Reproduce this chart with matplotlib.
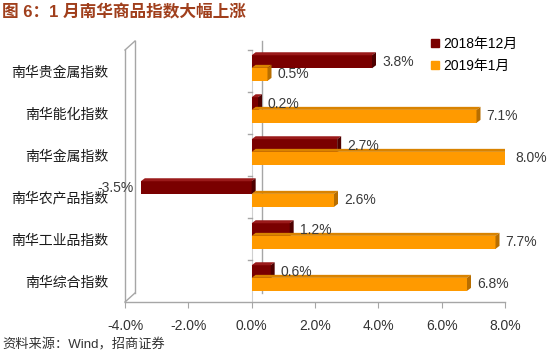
import numpy as np
import matplotlib
matplotlib.use('Agg')
import matplotlib.pyplot as plt
from matplotlib.patches import Polygon
from matplotlib.lines import Line2D

plt.rcParams['font.family'] = ['Liberation Sans', 'Noto Sans CJK SC', 'DejaVu Sans']

# data
categories = ['南华贵金属指数', '南华能化指数', '南华金属指数',
              '南华农产品指数', '南华工业品指数', '南华综合指数']
dec_2018 = [3.8, 0.2, 2.7, -3.5, 1.2, 0.6]
jan_2019 = [0.5, 7.1, 8.0, 2.6, 7.7, 6.8]
series_names = ['2018年12月', '2019年1月']
xticks = [-4, -2, 0, 2, 4, 6, 8]

c_dark = '#7A0000'
c_dark_side = '#4E0000'
c_dark_top = '#9A1A1A'
c_org = '#FF9A00'
c_org_side = '#B86E00'
c_org_top = '#D98300'
grey = '#A6A6A6'

fig = plt.figure(figsize=(5.5, 3.56), dpi=100)
ax = fig.add_axes([125/550, 1-302/356, 380/550, 252/356])

ypos = np.arange(len(categories))
bh = 0.31
b1 = ax.barh(ypos - 0.22, dec_2018, height=bh, color=c_dark, zorder=3)
b2 = ax.barh(ypos + 0.08, jan_2019, height=bh, color=c_org, zorder=4)

ax.set_xlim(-4, 8)
ax.set_ylim(5.5, -0.5)

# px -> data units
px_x = 12 / 380.0
px_y = 6 / 252.0

# fake 3D faces on bars
for bars, side, top, z in [(b1, c_dark_side, c_dark_top, 3), (b2, c_org_side, c_org_top, 4)]:
    for r in bars:
        x0, y0, w, h = r.get_x(), r.get_y(), r.get_width(), r.get_height()
        xl, xr = min(x0, x0 + w), max(x0, x0 + w)
        dx, dy = 4 * px_x, 3 * px_y
        ax.add_patch(Polygon([(xl, y0), (xl + dx, y0 - dy), (xr + dx, y0 - dy), (xr, y0)],
                             closed=True, color=top, lw=0, zorder=z))
        ax.add_patch(Polygon([(xr, y0), (xr + dx, y0 - dy), (xr + dx, y0 + h - dy), (xr, y0 + h)],
                             closed=True, color=side, lw=0, zorder=z))

# value labels
for bars, vals in [(b1, dec_2018), (b2, jan_2019)]:
    for r, v in zip(bars, vals):
        yc = r.get_y() + r.get_height() / 2
        if v >= 0:
            ax.text(v + 10 * px_x, yc, '%.1f%%' % v, ha='left', va='center',
                    fontsize=10, color='#3a3a3a', zorder=6)
        else:
            ax.text(v - 7 * px_x, yc, '%.1f%%' % v, ha='right', va='center',
                    fontsize=10, color='#3a3a3a', zorder=6)

# walls / axes lines (3D look)
ddx, ddy = 10 * px_x, 9 * px_y
ax.plot([-4 + ddx, -4 + ddx], [-0.5 - ddy, 5.5 - ddy], color=grey, lw=1, clip_on=False)
ax.plot([-4, -4 + ddx], [-0.5, -0.5 - ddy], color=grey, lw=1, clip_on=False)
ax.plot([-4, -4 + ddx], [5.5, 5.5 - ddy], color=grey, lw=1, clip_on=False)
ax.plot([ddx, ddx], [-0.5 - ddy, 5.5 - ddy], color=grey, lw=1, clip_on=False, zorder=1)
ax.plot([0, 0], [-0.5, 5.5], color='#D0D0D0', lw=0.8, zorder=1)
for yb in np.arange(-0.5, 5.5, 1.0):
    ax.plot([-4 * px_x, 0], [yb, yb], color=grey, lw=1, clip_on=False, zorder=1)

for s in ['top', 'right']:
    ax.spines[s].set_visible(False)
for s in ['left', 'bottom']:
    ax.spines[s].set_color(grey)
    ax.spines[s].set_linewidth(1)

ax.set_xticks(xticks)
ax.set_xticklabels(['%.1f%%' % t for t in xticks], fontsize=10, color='#333333')
ax.tick_params(axis='x', colors=grey, length=4, labelcolor='#333333', pad=8)
ax.set_yticks(ypos)
ax.set_yticklabels(categories, fontsize=10, color='#1a1a1a')
ax.tick_params(axis='y', length=0, pad=12)

handles = [Line2D([], [], marker='s', ls='', color=c_dark, markersize=6),
           Line2D([], [], marker='s', ls='', color=c_org, markersize=6)]
fig.legend(handles, series_names, loc='upper left', bbox_to_anchor=(428/550, 1-37/356),
           frameon=False, fontsize=10, handletextpad=0.1, handlelength=1.0,
           labelspacing=0.6, borderpad=0, borderaxespad=0)

fig.text(0.004, 1-12/356, '图 6：1 月南华商品指数大幅上涨', fontsize=12, fontweight='bold',
         color='#A03F1C', va='center', ha='left')
fig.text(0.004, 1-345/356, '资料来源：Wind，招商证券', fontsize=9.5,
         color='#333333', va='center', ha='left')

fig.savefig('out.png', dpi=100)
